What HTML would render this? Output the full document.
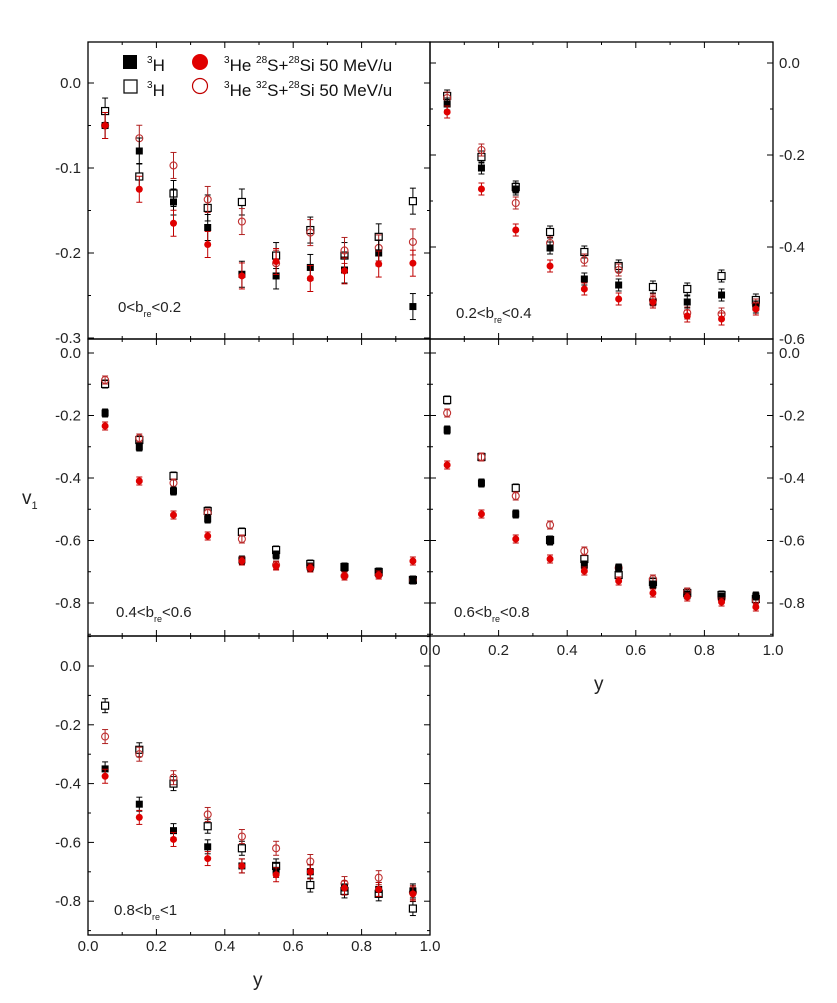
<!DOCTYPE html>
<html><head><meta charset="utf-8"><style>
body{margin:0;background:#fff;}
svg{display:block;font-family:"Liberation Sans",sans-serif;}
</style></head><body>
<svg id="s" width="837" height="1003" xmlns="http://www.w3.org/2000/svg">
<rect width="837" height="1003" fill="#fff"/>
<g font-size="17" fill="#111">
<rect x="123" y="55" width="14" height="14" fill="#000"/>
<text x="147" y="71"><tspan font-size="10" dy="-8">3</tspan><tspan dy="8">H</tspan></text>
<circle cx="200" cy="62" r="8" fill="#e00000"/>
<text x="224" y="71"><tspan font-size="10" dy="-8">3</tspan><tspan dy="8">He </tspan><tspan font-size="10" dy="-8">28</tspan><tspan dy="8">S+</tspan><tspan font-size="10" dy="-8">28</tspan><tspan dy="8">Si 50 MeV/u</tspan></text>
<rect x="124" y="80" width="13" height="13" fill="none" stroke="#111" stroke-width="1.3"/>
<text x="147" y="96"><tspan font-size="10" dy="-8">3</tspan><tspan dy="8">H</tspan></text>
<circle cx="200" cy="86" r="7.5" fill="none" stroke="#c00000" stroke-width="1.2"/>
<text x="224" y="96"><tspan font-size="10" dy="-8">3</tspan><tspan dy="8">He </tspan><tspan font-size="10" dy="-8">32</tspan><tspan dy="8">S+</tspan><tspan font-size="10" dy="-8">28</tspan><tspan dy="8">Si 50 MeV/u</tspan></text>
</g>
<g font-size="15" fill="#222">
<text x="118" y="312">0&lt;b<tspan font-size="9" dy="5">re</tspan><tspan dy="-5">&lt;0.2</tspan></text>
<text x="456" y="318">0.2&lt;b<tspan font-size="9" dy="5">re</tspan><tspan dy="-5">&lt;0.4</tspan></text>
<text x="116" y="617">0.4&lt;b<tspan font-size="9" dy="5">re</tspan><tspan dy="-5">&lt;0.6</tspan></text>
<text x="454" y="617">0.6&lt;b<tspan font-size="9" dy="5">re</tspan><tspan dy="-5">&lt;0.8</tspan></text>
<text x="114" y="915">0.8&lt;b<tspan font-size="9" dy="5">re</tspan><tspan dy="-5">&lt;1</tspan></text>
<text x="22" y="504" font-size="19">v<tspan font-size="11" dy="5">1</tspan></text>
<text x="594" y="690" font-size="19">y</text>
<text x="253" y="986" font-size="19">y</text>
</g>
</svg>
<script>
var s=document.getElementById('s'),NS='http://www.w3.org/2000/svg';
function el(t,a){var e=document.createElementNS(NS,t);for(var k in a)e.setAttribute(k,a[k]);s.appendChild(e);return e;}
function txt(x,y,str,anchor){var e=el('text',{x:x,y:y,'font-size':15,fill:'#222','text-anchor':anchor});e.textContent=str;}
var P=[
 {x0:88,x1:430,y0:42,y1:339,z:83,k:850,side:'L',labs:[0,-0.1,-0.2,-0.3],minor:0.05,err:13,
  d:[[-0.05,-0.033,-0.05,-0.05],[-0.08,-0.11,-0.125,-0.065],[-0.14,-0.13,-0.165,-0.097],[-0.17,-0.147,-0.19,-0.137],[-0.225,-0.14,-0.227,-0.163],[-0.227,-0.203,-0.21,-0.212],[-0.217,-0.173,-0.23,-0.176],[-0.22,-0.203,-0.221,-0.197],[-0.2,-0.181,-0.213,-0.194],[-0.263,-0.139,-0.212,-0.187]]},
 {x0:430,x1:773,y0:42,y1:339,z:63,k:460,side:'R',labs:[0,-0.2,-0.4,-0.6],minor:0.1,err:6,px:1},
 {x0:88,x1:430,y0:339,y1:636,z:353,k:312.5,side:'L',labs:[0,-0.2,-0.4,-0.6,-0.8],minor:0.1,err:4,px:1},
 {x0:430,x1:773,y0:339,y1:636,z:353,k:312.5,side:'R',labs:[0,-0.2,-0.4,-0.6,-0.8],minor:0.1,err:4,px:1},
 {x0:88,x1:430,y0:636,y1:935,z:666,k:294,side:'L',labs:[0,-0.2,-0.4,-0.6,-0.8],minor:0.1,err:7,
  d:[[-0.35,-0.135,-0.375,-0.24],[-0.47,-0.285,-0.515,-0.30],[-0.56,-0.40,-0.59,-0.38],[-0.615,-0.545,-0.655,-0.505],[-0.68,-0.62,-0.68,-0.58],[-0.695,-0.68,-0.71,-0.62],[-0.70,-0.745,-0.70,-0.665],[-0.755,-0.765,-0.755,-0.74],[-0.76,-0.775,-0.76,-0.72],[-0.765,-0.825,-0.775,-0.77]]}
];
P[1].d=[[104,96,112,98],[168,157,189,150],[189,187,230,203],[248,232,266,243],[279,252,289,260],[285,266,299,270],[302,287,302,300],[302,289,316,313],[295,276,319,314],[307,300,309,305]];
P[2].d=[[413,384,426,380],[447,440,481,438],[491,476,515,483],[519,511,536,513],[560,532,561,539],[555,550,566,565],[567,564,568,568],[568,567,576,576],[573,572,575,575],[580,580,561,580]];
P[3].d=[[430,400,465,413],[483,457,514,457],[514,488,539,496],[541,540,559,525],[565,559,571,551],[568,575,581,568],[585,582,593,579],[595,593,597,592],[597,595,602,599],[596,599,607,600]];
P.forEach(function(p){
 el('rect',{x:p.x0,y:p.y0,width:p.x1-p.x0,height:p.y1-p.y0,fill:'none',stroke:'#000','stroke-width':1.3});
 var W=p.x1-p.x0;
 for(var i=0;i<=10;i++){var x=p.x0+W*i/10,L=i%2?3:6;
  el('line',{x1:x,x2:x,y1:p.y1,y2:p.y1-L,stroke:'#000'});el('line',{x1:x,x2:x,y1:p.y0,y2:p.y0+L,stroke:'#000'});}
 var vtop=(p.z-p.y0)/p.k, vbot=(p.z-p.y1)/p.k;
 for(var v=Math.ceil(vbot/p.minor)*p.minor;v<=vtop+1e-9;v+=p.minor){var y=p.z-v*p.k;
  var maj=p.labs.some(function(l){return Math.abs(l-v)<1e-6});var L=maj?6:3;
  el('line',{x1:p.x0,x2:p.x0+L,y1:y,y2:y,stroke:'#000'});el('line',{x1:p.x1,x2:p.x1-L,y1:y,y2:y,stroke:'#000'});}
 p.labs.forEach(function(l){var y=p.z-l*p.k+5,t=l==0?'0.0':l.toFixed(1);
  if(p.side=='L')txt(81,y,t,'end');else txt(779,y,t,'start');});
 p.d.forEach(function(r,i){var x=p.x0+W*(0.05+0.1*i);
  var Y=r.map(function(v){return p.px?v:p.z-v*p.k;});
  var cols=['#000','#000','#c00000','#b02020'];
  [1,3,0,2].forEach(function(j){var y=Y[j],e=p.err;
   el('line',{x1:x,x2:x,y1:y-e,y2:y+e,stroke:cols[j],'stroke-width':1});
   el('line',{x1:x-3,x2:x+3,y1:y-e,y2:y-e,stroke:cols[j]});el('line',{x1:x-3,x2:x+3,y1:y+e,y2:y+e,stroke:cols[j]});
   if(j==0)el('rect',{x:x-3.5,y:y-3.5,width:7,height:7,fill:'#000'});
   if(j==1)el('rect',{x:x-3.5,y:y-3.5,width:7,height:7,fill:'#fff',stroke:'#000','stroke-width':1.2});
   if(j==2)el('circle',{cx:x,cy:y,r:3.5,fill:'#e00000'});
   if(j==3)el('circle',{cx:x,cy:y,r:3.5,fill:'none',stroke:'#c03030','stroke-width':1.1});
  });
 });
});
[0,0.2,0.4,0.6,0.8,1.0].forEach(function(v){txt(88+342*v,951,v.toFixed(1),'middle');txt(430+343*v,655,v.toFixed(1),'middle');});
</script>
</body></html>
